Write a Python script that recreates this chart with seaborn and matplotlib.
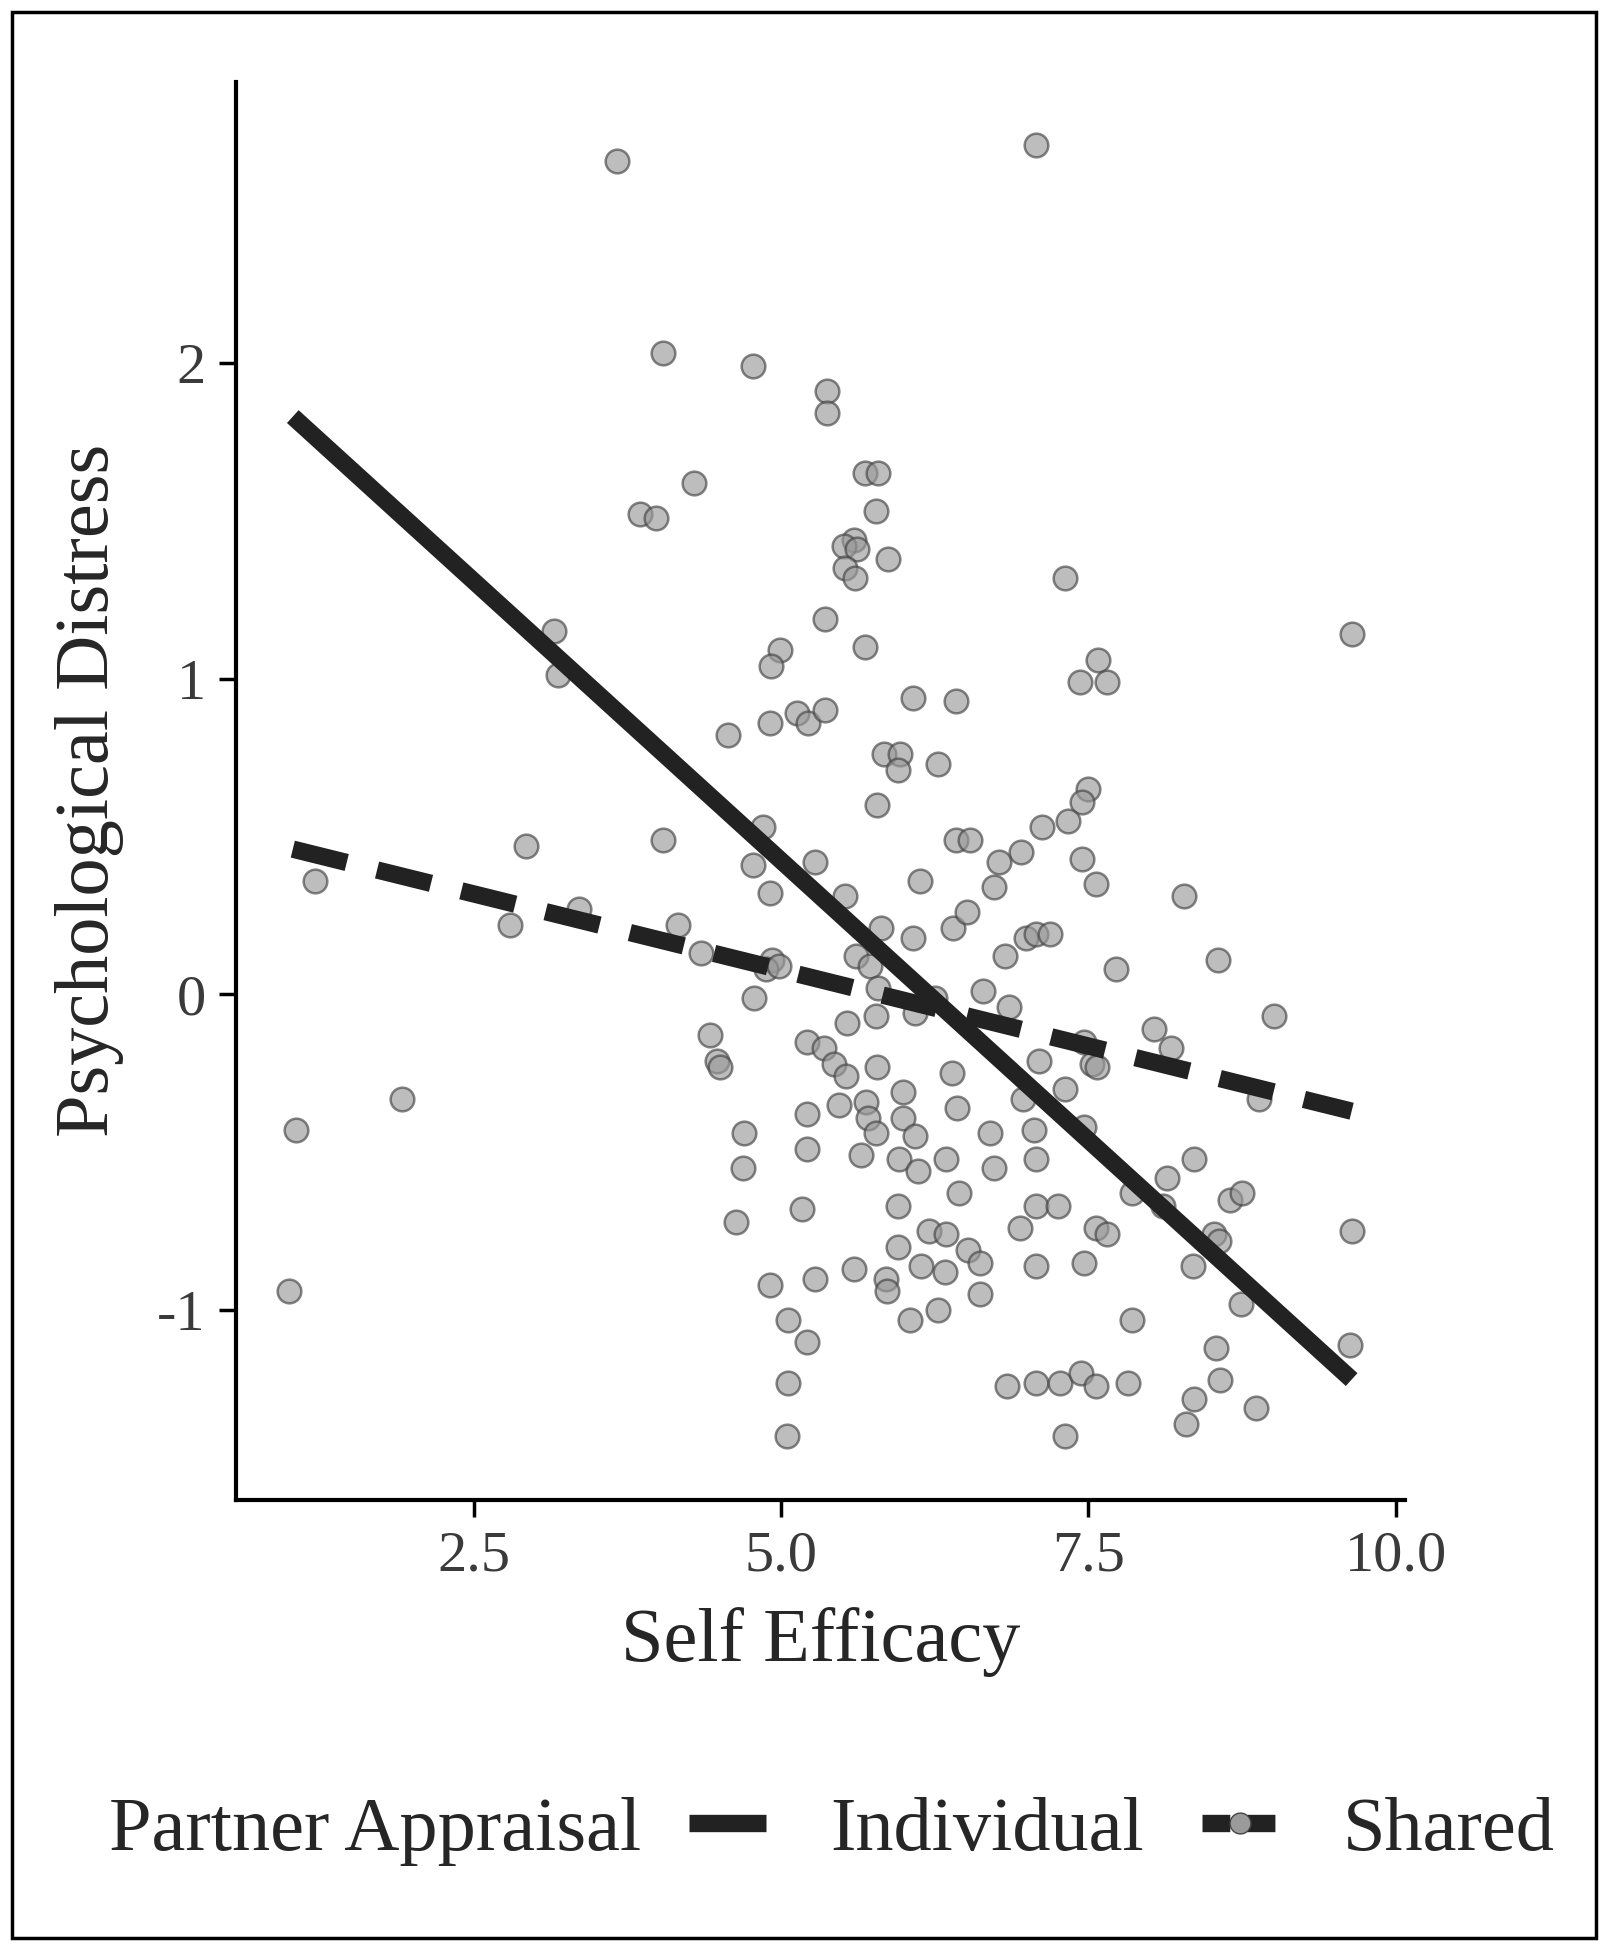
import pandas as pd
import numpy as np
import matplotlib.pyplot as plt
import seaborn as sns
from matplotlib.lines import Line2D
from matplotlib.patches import Rectangle

# Scatter data
self_efficacy = [
    3.67, 7.07, 4.04, 4.77, 5.37, 5.37, 4.29, 3.85, 3.98, 5.68,
    5.79, 5.77, 5.59, 5.51, 5.62, 5.52, 5.60, 5.87, 5.36, 5.68,
    4.99, 4.92, 3.15, 3.19, 7.31, 9.64, 7.58, 7.65, 7.43, 6.07,
    6.42, 5.13, 5.22, 5.36, 4.91, 4.57, 5.84, 5.97, 5.95, 6.28,
    5.78, 7.50, 7.45, 7.33, 7.12, 6.95, 6.77, 6.73, 6.42, 6.54,
    7.45, 7.56, 4.04, 2.93, 4.85, 4.77, 5.28, 4.91, 6.13, 5.52,
    1.21, 2.80, 3.36, 4.16, 5.81, 6.07, 6.40, 6.51, 6.99, 7.07,
    7.19, 6.82, 8.28, 7.72, 8.55, 5.61, 5.72, 4.93, 4.88, 4.98,
    4.78, 4.35, 5.79, 6.64, 6.25, 6.09, 5.77, 5.54, 6.85, 9.01,
    8.03, 8.17, 7.46, 7.53, 7.57, 7.10, 4.42, 4.48, 4.50, 5.21,
    5.35, 5.43, 5.53, 5.78, 6.39, 6.97, 7.31, 5.47, 5.69, 5.99,
    5.71, 5.77, 5.21, 5.21, 5.99, 6.43, 6.09, 6.70, 7.06, 7.46,
    8.89, 4.70, 4.69, 5.65, 5.96, 6.11, 6.34, 6.73, 7.07, 4.63,
    5.17, 5.95, 6.45, 6.94, 7.07, 7.25, 7.85, 8.14, 8.36, 8.65,
    8.75, 7.56, 7.65, 8.11, 8.52, 8.56, 9.64, 5.95, 6.20, 6.34,
    6.14, 6.33, 6.52, 6.62, 6.62, 7.07, 7.46, 8.35, 8.74, 5.59,
    5.85, 5.86, 4.91, 5.28, 6.05, 6.28, 5.06, 5.21, 7.85, 8.54,
    9.63, 5.06, 5.05, 6.84, 7.07, 7.27, 7.44, 7.56, 7.82, 8.29,
    8.36, 8.57, 8.86, 7.31, 1.92, 1.06, 1.00,
]
distress = [
    2.64, 2.69, 2.03, 1.99, 1.91, 1.84, 1.62, 1.52, 1.51, 1.65,
    1.65, 1.53, 1.44, 1.42, 1.41, 1.35, 1.32, 1.38, 1.19, 1.10,
    1.09, 1.04, 1.15, 1.01, 1.32, 1.14, 1.06, 0.99, 0.99, 0.94,
    0.93, 0.89, 0.86, 0.90, 0.86, 0.82, 0.76, 0.76, 0.71, 0.73,
    0.60, 0.65, 0.61, 0.55, 0.53, 0.45, 0.42, 0.34, 0.49, 0.49,
    0.43, 0.35, 0.49, 0.47, 0.53, 0.41, 0.42, 0.32, 0.36, 0.31,
    0.36, 0.22, 0.27, 0.22, 0.21, 0.18, 0.21, 0.26, 0.18, 0.19,
    0.19, 0.12, 0.31, 0.08, 0.11, 0.12, 0.09, 0.11, 0.08, 0.09,
    -0.01, 0.13, 0.02, 0.01, -0.01, -0.06, -0.07, -0.09, -0.04, -0.07,
    -0.11, -0.17, -0.15, -0.22, -0.23, -0.21, -0.13, -0.21, -0.23, -0.15,
    -0.17, -0.22, -0.26, -0.23, -0.25, -0.33, -0.30, -0.35, -0.34, -0.31,
    -0.39, -0.44, -0.38, -0.49, -0.39, -0.36, -0.45, -0.44, -0.43, -0.42,
    -0.33, -0.44, -0.55, -0.51, -0.52, -0.56, -0.52, -0.55, -0.52, -0.72,
    -0.68, -0.67, -0.63, -0.74, -0.67, -0.67, -0.63, -0.58, -0.52, -0.65,
    -0.63, -0.74, -0.76, -0.67, -0.76, -0.78, -0.75, -0.80, -0.75, -0.76,
    -0.86, -0.88, -0.81, -0.85, -0.95, -0.86, -0.85, -0.86, -0.98, -0.87,
    -0.90, -0.94, -0.92, -0.90, -1.03, -1.00, -1.03, -1.10, -1.03, -1.12,
    -1.11, -1.23, -1.40, -1.24, -1.23, -1.23, -1.20, -1.24, -1.23, -1.36,
    -1.28, -1.22, -1.31, -1.40, -0.33, -0.43, -0.94,
]

# Fitted lines (simple slopes) by partner appraisal
line_x = [1.03, 9.64]
individual_y = [1.83, -1.22]
shared_y = [0.46, -0.37]
groups = ["Individual", "Shared"]

points = pd.DataFrame({"se": self_efficacy, "pd": distress})
lines = pd.DataFrame({
    "se": line_x + line_x,
    "pd": individual_y + shared_y,
    "appraisal": [groups[0]] * 2 + [groups[1]] * 2,
})

sns.set_theme(style="ticks")
plt.rcParams['font.family'] = ['Liberation Serif', 'DejaVu Serif']

fig, ax = plt.subplots(figsize=(16.07, 19.5), dpi=100)
fig.subplots_adjust(left=0.147, right=0.874, bottom=0.231, top=0.958)

sns.scatterplot(data=points, x="se", y="pd", ax=ax, s=290, color="#9a9a9a",
                edgecolor="#444444", linewidth=1.8, alpha=0.65, zorder=2)

line_color = "#222222"
sns.lineplot(data=lines, x="se", y="pd", style="appraisal", ax=ax,
             dashes={"Individual": "", "Shared": (3.2, 1.8)},
             color=line_color, linewidth=12.5, legend=False, zorder=3)
for ln in ax.get_lines():
    ln.set_solid_capstyle("butt")
    ln.set_dash_capstyle("butt")

ax.set_xlim(0.57, 10.07)
ax.set_ylim(-1.60, 2.89)
ax.set_xticks([2.5, 5.0, 7.5, 10.0])
ax.set_xticklabels(["2.5", "5.0", "7.5", "10.0"])
ax.set_yticks([-1, 0, 1, 2])
ax.set_yticklabels(["-1", "0", "1", "2"])
ax.tick_params(axis="both", labelsize=42, labelcolor="#3a3a3a", length=12,
               width=2.5, color="black", pad=10)
sns.despine(ax=ax)
for side in ["left", "bottom"]:
    ax.spines[side].set_linewidth(3)
    ax.spines[side].set_color("black")

ax.set_xlabel("Self Efficacy", fontsize=55, labelpad=18)
ax.set_ylabel("Psychological Distress", fontsize=55, labelpad=24)

# Legend along the bottom, title on the left
fig.text(0.068, 0.061, "Partner Appraisal", fontsize=55, va="center", ha="left")
handles = [
    Line2D([], [], color=line_color, lw=12.5, ls="-", solid_capstyle="butt"),
    Line2D([], [], color=line_color, lw=12.5, ls=(0, (1.6, 1.0)), marker="o",
           markersize=15, markerfacecolor="#9a9a9a", markeredgecolor="#444444",
           dash_capstyle="butt"),
]
fig.legend(handles, groups, ncol=2, loc="center left",
           bbox_to_anchor=(0.429, 0.061), frameon=False, fontsize=55,
           borderpad=0, borderaxespad=0, handlelength=1.0,
           handletextpad=0.85, columnspacing=0.75)

# Outer frame
fig.patches.append(Rectangle((0.0075, 0.006), 0.9855, 0.988,
                             transform=fig.transFigure, fill=False,
                             lw=2.5, ec="black"))

plt.savefig("out.png", dpi=100)
